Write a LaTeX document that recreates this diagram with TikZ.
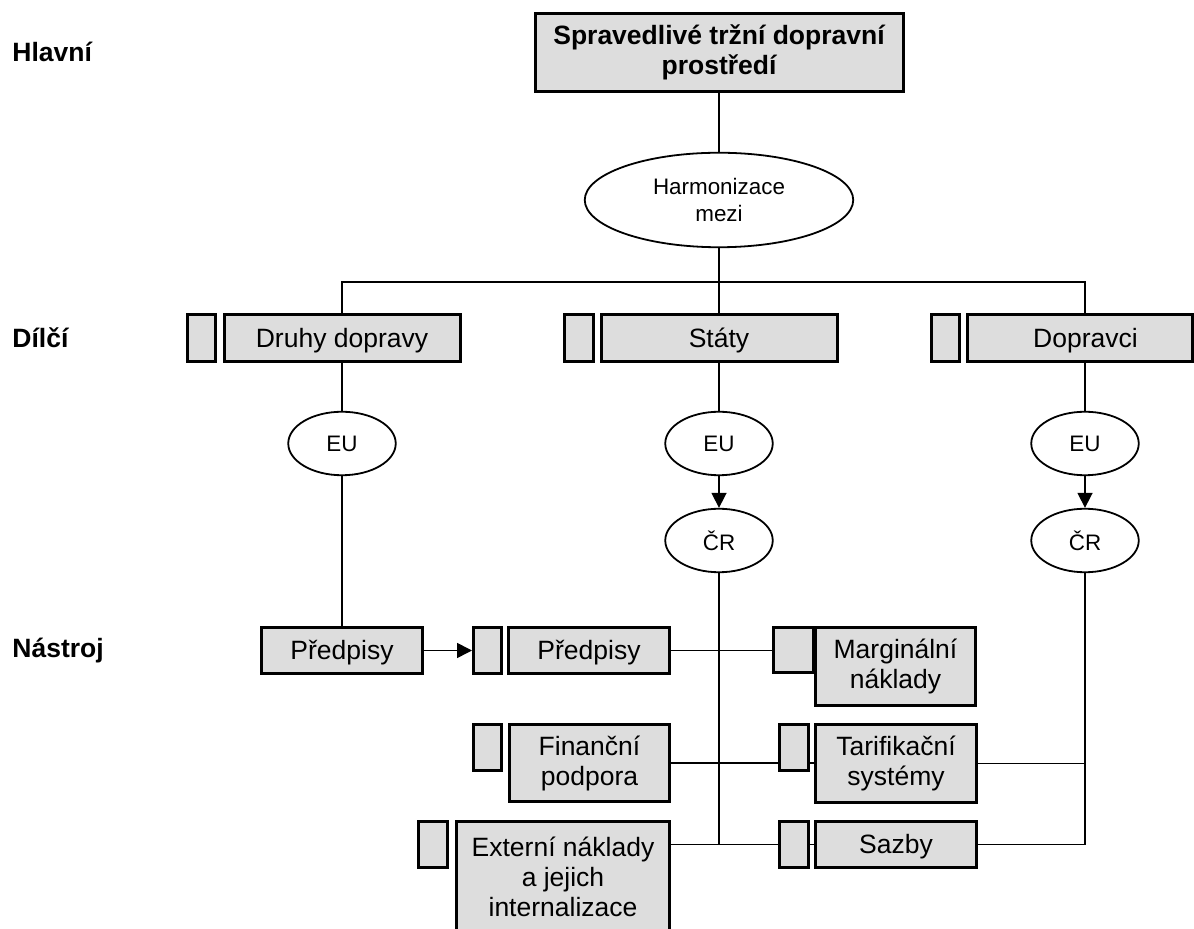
\documentclass[tikz,border=0pt]{standalone}
\usepackage{fontspec}
\setmainfont{Liberation Sans}
\usetikzlibrary{arrows.meta,backgrounds,shapes.geometric}
\definecolor{boxgray}{HTML}{DDDDDD}
\tikzset{
  gbox/.style={draw, line width=1.5pt, fill=boxgray, inner sep=0pt, align=center,
    font=\fontsize{13.25}{15}\selectfont},
  oneline/.style={text height=9.5pt, text depth=0pt},
  oval/.style={draw, ellipse, line width=0.9pt, fill=white, inner sep=0pt, align=center,
    font=\fontsize{11.2}{13.3}\selectfont, minimum width=53.75pt, minimum height=31.75pt},
  link/.style={line width=0.8pt},
  arr/.style={line width=0.8pt, -{Triangle[length=7.5pt,width=7.5pt]}},
  lvl/.style={anchor=west, inner sep=0pt, font=\fontsize{13.25}{15}\selectfont\bfseries}
}
\begin{document}
\begin{tikzpicture}[x=0.5pt,y=-0.5pt]
\clip (0,0) rectangle (1194,929);
\useasboundingbox (0,0) rectangle (1194,929);

% level labels
\node[lvl] (lh) at (12,52) {Hlavní};
\node[lvl] (ld) at (12,338) {Dílčí};
\node[lvl] (ln) at (12,651) {Nástroj};

% main goal
\node[gbox, font=\fontsize{13.25}{15}\selectfont\bfseries, minimum width=184pt, minimum height=39pt]
  (title) at (719,52.5) {Spravedlivé tržní dopravní\\prostředí};
\node[oval, minimum width=134.25pt, minimum height=47.25pt] (harm) at (719,200) {Harmonizace\\mezi};

% partial goals
\node[gbox, minimum width=14pt, minimum height=23.5pt] (dsq) at (201.5,338) {};
\node[gbox, oneline, minimum width=118pt, minimum height=23.5pt] (druhy) at (342,338) {Druhy dopravy};
\node[gbox, minimum width=14.5pt, minimum height=23.5pt] (ssq) at (579,338) {};
\node[gbox, oneline, minimum width=118pt, minimum height=23.5pt] (staty) at (719,338) {Státy};
\node[gbox, minimum width=14pt, minimum height=23.5pt] (psq) at (945.5,338) {};
\node[gbox, oneline, minimum width=112.5pt, minimum height=23.5pt] (dopravci) at (1079.5,338) {\hspace{6pt}Dopravci};

% levels of harmonisation
\node[oval] (eul) at (342,443.5) {EU};
\node[oval] (eum) at (719,443.5) {EU};
\node[oval] (eur) at (1085,443.5) {EU};
\node[oval] (crm) at (719,540.5) {ČR};
\node[oval] (crr) at (1085,540.5) {ČR};

% instruments
\node[gbox, oneline, minimum width=80.5pt, minimum height=23pt] (pl) at (342,650.5) {Předpisy};
\node[gbox, minimum width=14pt, minimum height=23pt] (msq) at (487.5,650.5) {};
\node[gbox, oneline, minimum width=80.5pt, minimum height=23pt] (pm) at (589,650.5) {Předpisy};
\node[gbox, minimum width=20pt, minimum height=22.5pt] (margsq) at (793.5,650) {};
\node[gbox, minimum width=80pt, minimum height=39pt] (marg) at (895.5,666.5) {Marginální\\náklady};

\node[gbox, minimum width=14pt, minimum height=23pt] (fsq) at (487.5,747.5) {};
\node[gbox, minimum width=80pt, minimum height=38.5pt] (fin) at (589.5,763) {Finanční\\podpora};
\node[gbox, minimum width=14.5pt, minimum height=23pt] (tsq) at (794,747.5) {};
\node[gbox, minimum width=80.5pt, minimum height=39pt] (tar) at (896,763.5) {Tarifikační\\systémy};

\node[gbox, minimum width=14.5pt, minimum height=23pt] (esq) at (433,844.5) {};
\node[gbox, minimum width=106.5pt, minimum height=55.5pt] (ext) at (563,877) {Externí náklady\\a jejich\\internalizace};
\node[gbox, minimum width=14.5pt, minimum height=23pt] (zsq) at (794,844.5) {};
\node[gbox, oneline, minimum width=80.5pt, minimum height=23pt] (saz) at (896,844.5) {Sazby};

\coordinate (bar) at (719,282);
\coordinate (rtop) at (1085,282);

\begin{scope}[on background layer]
  \fill[white] (0,0) rectangle (1194,929);
  \draw[link] (title.south) -- (harm.north);
  \draw[link] (harm.south) -- (staty.north);
  \draw[link] (druhy.north) |- (rtop) -- (eur.north);

  \draw[link] (druhy.south) -- (eul.north);
  \draw[link] (eul.south) -- (pl.north);
  \draw[link] (staty.south) -- (eum.north);

  \draw[link] (crm.south) -- (crm.south |- saz.west);
  \draw[link] (crr.south) |- (saz.east);

  \draw[link] (pm.east) -- (pm.east -| margsq.west);
  \draw[link] (fin.east) -- (fin.east -| tar.west);
  \draw[link] (tar.east) -- (tar.east -| crr.south);
  \draw[link] (saz.west -| ext.east) -- (saz.west);
\end{scope}

\draw[arr] (eum.south) -- (crm.north);
\draw[arr] (eur.south) -- (crr.north);
\draw[arr] (pl.east) -- (msq.west);
\end{tikzpicture}
\end{document}
